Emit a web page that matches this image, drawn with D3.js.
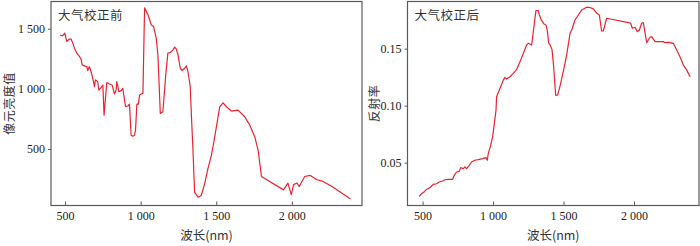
<!DOCTYPE html>
<html>
<head>
<meta charset="utf-8">
<script src="https://cdn.jsdelivr.net/npm/d3@7"></script>
<style>
  html, body { margin: 0; padding: 0; background: #fff; }
  svg { display: block; }
  .tick text { font-family: "Liberation Serif", "DejaVu Serif", serif; font-size: 12px; fill: #222; }
  .cjk { font-family: "Noto Sans CJK SC", sans-serif; font-size: 12.5px; fill: #333; }
</style>
</head>
<body>
<svg id="chart" width="700" height="246"></svg>
<script>
// left panel: radiance before correction
const beforeWl = [467, 484, 498, 511, 529, 540, 551, 562, 577, 595, 606, 613, 628, 644, 650, 661, 672, 688, 694, 701,
  716, 723, 739, 750, 758, 776, 794, 811, 827, 838, 842, 856, 871, 882, 900, 915, 926, 937, 948, 959,
  966, 975, 985, 993, 1004, 1015, 1026, 1048, 1070, 1085, 1103, 1114, 1130, 1147, 1165, 1180, 1196, 1214, 1225, 1236,
  1247, 1262, 1275, 1291, 1302, 1313, 1328, 1337, 1346, 1357, 1379, 1401, 1423, 1445, 1468, 1490, 1523, 1545, 1567, 1600,
  1644, 1688, 1722, 1755, 1777, 1799, 1945, 1974, 1996, 2012, 2034, 2049, 2085, 2122, 2166, 2200, 2266, 2388];
const beforeVal = [1446, 1441, 1464, 1394, 1414, 1414, 1380, 1338, 1297, 1269, 1247, 1199, 1191, 1185, 1152, 1185, 1144, 1060, 1018, 1074,
  1060, 990, 1012, 1032, 781, 1052, 1040, 1032, 957, 990, 1060, 976, 985, 1004, 851, 857, 873, 614, 606, 614,
  656, 873, 873, 949, 957, 962, 1673, 1617, 1533, 1519, 1422, 1283, 795, 809, 1102, 1297, 1302, 1324, 1347, 1330,
  1283, 1171, 1152, 1171, 1191, 1144, 1018, 740, 489, 141, 99, 113, 210, 336, 447, 600, 851, 884, 851, 815,
  823, 768, 698, 600, 489, 271, 160, 216, 121, 205, 216, 188, 271, 280, 244, 233, 188, 85];

// right panel: reflectance after correction
const afterWl = [476, 493, 510, 528, 540, 557, 576, 599, 618, 642, 659, 682, 713, 725, 741, 760, 770, 789, 800, 812,
  831, 848, 871, 895, 926, 950, 959, 966, 983, 997, 1009, 1021, 1025, 1049, 1073, 1084, 1096, 1120, 1144, 1167,
  1191, 1215, 1238, 1250, 1274, 1290, 1304, 1321, 1328, 1345, 1361, 1375, 1385, 1394, 1408, 1418, 1430, 1444, 1458, 1475,
  1498, 1522, 1546, 1558, 1581, 1598, 1629, 1664, 1688, 1711, 1735, 1754, 1770, 1782, 1806, 1960, 1976, 1988, 2007, 2024,
  2038, 2054, 2066, 2090, 2113, 2125, 2149, 2208, 2220, 2244, 2279, 2303, 2326, 2350, 2374, 2398];
const afterVal = [0.0204, 0.0227, 0.0242, 0.0265, 0.0271, 0.0286, 0.0309, 0.0315, 0.0330, 0.0339, 0.0350, 0.0353, 0.0353, 0.0389, 0.0418, 0.0424, 0.0456, 0.0447, 0.0462, 0.0447,
  0.0477, 0.0506, 0.0521, 0.0526, 0.0535, 0.0544, 0.0521, 0.0579, 0.0652, 0.0726, 0.0843, 0.0960, 0.1078, 0.1151, 0.1224, 0.1248, 0.1233, 0.1254, 0.1283, 0.1318,
  0.1386, 0.1459, 0.1532, 0.1547, 0.1532, 0.1694, 0.1834, 0.1834, 0.1796, 0.1746, 0.1717, 0.1708, 0.1658, 0.1553, 0.1523, 0.1494, 0.1342, 0.1092, 0.1092, 0.1172,
  0.1298, 0.1444, 0.1635, 0.1664, 0.1752, 0.1782, 0.1840, 0.1864, 0.1861, 0.1849, 0.1811, 0.1796, 0.1655, 0.1655, 0.1767, 0.1729, 0.1723, 0.1679, 0.1688, 0.1650,
  0.1664, 0.1723, 0.1729, 0.1553, 0.1600, 0.1606, 0.1562, 0.1562, 0.1553, 0.1556, 0.1547, 0.1488, 0.1430, 0.1356, 0.1312, 0.1254];

const xTicks = [500, 1000, 1500, 2000];
const xTickLabels = ["500", "1 000", "1 500", "2 000"];
const leftYTicks = [500, 1000, 1500];
const leftYTickLabels = ["500", "1 000", "1 500"];
const rightYTicks = [0.05, 0.10, 0.15];
const rightYTickLabels = ["0.05", "0.10", "0.15"];

const xTitle = "波长(nm)";

const panels = [
  {
    wl: beforeWl, val: beforeVal, box: { x0: 51, x1: 362, y0: 1.5, y1: 205.5 },
    xDomain: [407, 2464], yDomain: [30, 1726],
    yTicks: leftYTicks, yLabels: leftYTickLabels,
    yTitle: "像元亮度值", yTitleX: 14, note: "大气校正前"
  },
  {
    wl: afterWl, val: afterVal, box: { x0: 407.5, x1: 699, y0: 1.5, y1: 205.5 },
    xDomain: [393, 2461], yDomain: [0.0124, 0.1914],
    yTicks: rightYTicks, yLabels: rightYTickLabels,
    yTitle: "反射率", yTitleX: 379, note: "大气校正后"
  }
];

const svg = d3.select("#chart");
const frameColor = "#5a5a5a";
const lineColor = "#e8232e";

panels.forEach((p) => {
  const b = p.box;
  const x = d3.scaleLinear().domain(p.xDomain).range([b.x0, b.x1]);
  const y = d3.scaleLinear().domain(p.yDomain).range([b.y1, b.y0]);
  const g = svg.append("g");

  // x axis, ticks point inward
  const xa = g.append("g")
    .attr("transform", `translate(0,${b.y1})`)
    .call(d3.axisBottom(x).tickValues(xTicks)
      .tickFormat((d, i) => xTickLabels[i])
      .tickSizeInner(-4).tickSizeOuter(0).tickPadding(6));
  xa.select(".domain").remove();
  xa.selectAll(".tick line").attr("stroke", frameColor);

  // y axis, ticks point outward
  const ya = g.append("g")
    .attr("transform", `translate(${b.x0},0)`)
    .call(d3.axisLeft(y).tickValues(p.yTicks)
      .tickFormat((d, i) => p.yLabels[i])
      .tickSizeInner(3).tickSizeOuter(0).tickPadding(3));
  ya.select(".domain").remove();
  ya.selectAll(".tick line").attr("stroke", frameColor);

  // frame
  g.append("rect")
    .attr("x", b.x0).attr("y", b.y0)
    .attr("width", b.x1 - b.x0).attr("height", b.y1 - b.y0)
    .attr("fill", "none")
    .attr("stroke", frameColor)
    .attr("stroke-width", 1.2);

  const line = d3.line()
    .x((d, i) => x(p.wl[i]))
    .y((d) => y(d));

  g.append("path")
    .datum(p.val)
    .attr("d", line)
    .attr("fill", "none")
    .attr("stroke", lineColor)
    .attr("stroke-width", 1.2)
    .attr("stroke-linejoin", "round");

  g.append("text")
    .attr("class", "cjk")
    .attr("x", b.x0 + 7)
    .attr("y", 20)
    .attr("letter-spacing", "0.5px")
    .text(p.note);

  // rotated y title; baseline sits at yTitleX
  g.append("text")
    .attr("class", "cjk")
    .attr("transform", `translate(${p.yTitleX},${(b.y0 + b.y1) / 2}) rotate(-90)`)
    .attr("text-anchor", "middle")
    .attr("letter-spacing", "0.5px")
    .style("font-size", "12px")
    .text(p.yTitle);

  g.append("text")
    .attr("class", "cjk")
    .attr("x", (b.x0 + b.x1) / 2)
    .attr("y", 240)
    .attr("text-anchor", "middle")
    .text(xTitle);
});
</script>
</body>
</html>
